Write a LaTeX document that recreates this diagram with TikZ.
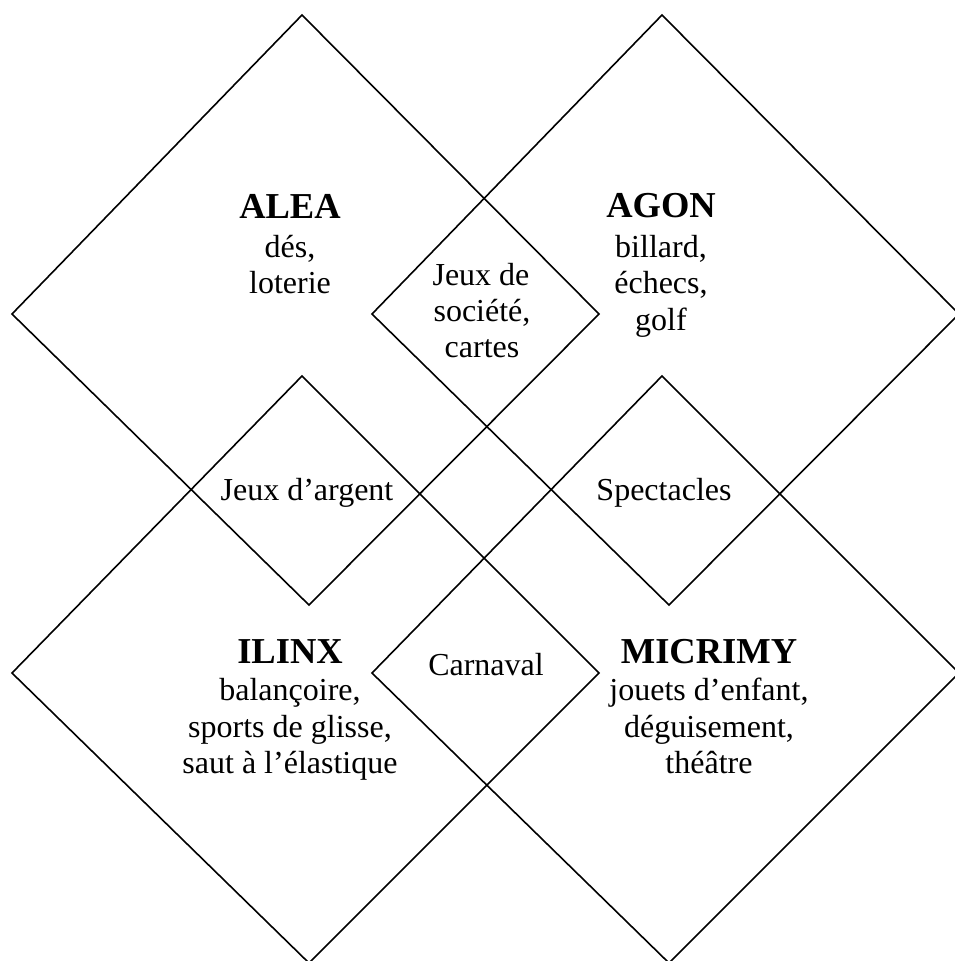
\documentclass[tikz,border=0pt]{standalone}
\usepackage{fontspec}
\setmainfont{Liberation Serif}
\begin{document}
\begin{tikzpicture}[x=1pt,y=-1pt,
  diam/.style={draw=black,line width=1.6pt,line join=miter},
  body/.style={font=\fontsize{32}{36}\selectfont, anchor=base, inner sep=0pt},
  title/.style={font=\fontsize{36.5}{40}\selectfont\bfseries, anchor=base, inner sep=0pt}]
\useasboundingbox (0,0) rectangle (954,961);
% vertices
\coordinate (aT) at (302,15);  \coordinate (aR) at (599,314);
\coordinate (aB) at (309,605); \coordinate (aL) at (12,314);
\coordinate (gT) at (662,15);  \coordinate (gR) at (959,314);
\coordinate (gB) at (669,605); \coordinate (gL) at (372,314);
\coordinate (iT) at (302,376); \coordinate (iR) at (599,673);
\coordinate (iB) at (309,963); \coordinate (iL) at (12,673);
\coordinate (mT) at (662,376); \coordinate (mR) at (959,673);
\coordinate (mB) at (669,963); \coordinate (mL) at (372,673);
\draw[diam] (aT) -- (aR) -- (aB) -- (aL) -- cycle;
\draw[diam] (gT) -- (gR) -- (gB) -- (gL) -- cycle;
\draw[diam] (iT) -- (iR) -- (iB) -- (iL) -- cycle;
\draw[diam] (mT) -- (mR) -- (mB) -- (mL) -- cycle;
% ALEA
\node[title] (alea) at (290,218) {ALEA};
\node[body] (alea1) at (290,257) {dés,};
\node[body] (alea2) at (290,293) {loterie};
% AGON
\node[title] (agon) at (661,217) {AGON};
\node[body] (agon1) at (661,257) {billard,};
\node[body] (agon2) at (661,293) {échecs,};
\node[body] (agon3) at (661,330) {golf};
% Jeux de société
\node[body] (soc1) at (481,285) {Jeux de};
\node[body] (soc2) at (482,321) {société,};
\node[body] (soc3) at (482,357) {cartes};
% intersections
\node[body] (argent) at (307,500) {Jeux d’argent};
\node[body] (spect) at (664,500) {Spectacles};
\node[body] (carn) at (486,675) {Carnaval};
% ILINX
\node[title] (ilinx) at (290,663) {ILINX};
\node[body] (ilinx1) at (290,700) {balançoire,};
\node[body] (ilinx2) at (290,737) {sports de glisse,};
\node[body] (ilinx3) at (290,773) {saut à l’élastique};
% MICRIMY
\node[title] (micr) at (709,663) {MICRIMY};
\node[body] (micr1) at (709,700) {jouets d’enfant,};
\node[body] (micr2) at (709,737) {déguisement,};
\node[body] (micr3) at (709,773) {théâtre};
\end{tikzpicture}
\end{document}
